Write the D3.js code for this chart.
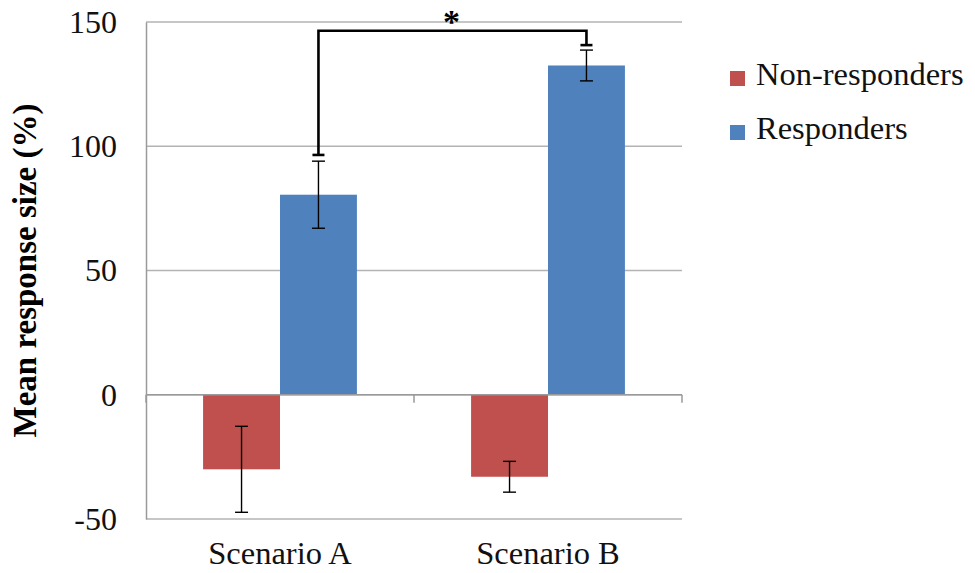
<!DOCTYPE html>
<html>
<head>
<meta charset="utf-8">
<script src="https://cdn.jsdelivr.net/npm/d3@7"></script>
<style>
  body { margin: 0; background: #fff; }
</style>
</head>
<body>
<div id="chart"></div>
<script>
// data
var categories = ["Scenario A", "Scenario B"];
var seriesNames = ["Non-responders", "Responders"];
var nonResponders = [-30, -33];
var nonRespErr = [17.3, 6.2];
var responders = [80.5, 132.5];
var respErr = [13.5, 6.2];
var yTicks = [-50, 0, 50, 100, 150];
// significance bracket (in data units)
var bracketTop = 146.5;
var bracketEnds = [96.5, 140.7];

var colors = ["#C0504D", "#4F81BD"];
var serif = "'Liberation Serif', 'Times New Roman', Times, serif";

var svgWidth = 975;
var svgHeight = 573;

var margin = { top: 22, right: 293, bottom: 54, left: 146 };
var width = svgWidth - margin.left - margin.right;
var height = svgHeight - margin.top - margin.bottom;

var svg = d3.select("#chart")
  .append("svg")
  .attr("width", svgWidth)
  .attr("height", svgHeight)
  .style("font-family", serif);

var chartGroup = svg.append("g")
  .attr("transform", `translate(${margin.left}, ${margin.top})`);

// scales
var x0 = d3.scaleBand()
  .domain(categories)
  .range([0, width])
  .padding(0);

var gap = x0.bandwidth() * 0.213;
var x1 = d3.scaleBand()
  .domain(seriesNames)
  .range([gap, x0.bandwidth() - gap])
  .padding(0);

var y = d3.scaleLinear()
  .domain([-50, 150])
  .range([height, 0]);

// gridlines
chartGroup.append("g")
  .selectAll("line")
  .data(yTicks)
  .enter()
  .append("line")
  .attr("x1", 0)
  .attr("x2", width)
  .attr("y1", d => y(d))
  .attr("y2", d => y(d))
  .attr("stroke", "#b3b3b3")
  .attr("stroke-width", 1.3);

// y axis
var leftAxis = d3.axisLeft(y)
  .tickValues(yTicks)
  .tickFormat(d => String(d))
  .tickSize(0)
  .tickPadding(29);

var yAxis = chartGroup.append("g")
  .call(leftAxis)
  .attr("font-family", null)
  .attr("font-size", null);
yAxis.select(".domain").attr("stroke", "#9a9a9a").attr("stroke-width", 1.5);
yAxis.selectAll("text")
  .style("font-family", serif)
  .attr("font-size", "32px")
  .attr("fill", "#111");

// bars
var rows = categories.map(function(c, i) {
  return [
    { cat: c, name: seriesNames[0], value: nonResponders[i], err: nonRespErr[i], color: colors[0] },
    { cat: c, name: seriesNames[1], value: responders[i], err: respErr[i], color: colors[1] }
  ];
});
var flat = rows.flat();

chartGroup.selectAll(".bar")
  .data(flat)
  .enter()
  .append("rect")
  .attr("class", "bar")
  .attr("x", d => x0(d.cat) + x1(d.name))
  .attr("width", x1.bandwidth())
  .attr("y", d => y(Math.max(0, d.value)))
  .attr("height", d => Math.abs(y(d.value) - y(0)))
  .attr("fill", d => d.color);

// zero line + category ticks
chartGroup.append("line")
  .attr("x1", 0).attr("x2", width)
  .attr("y1", y(0)).attr("y2", y(0))
  .attr("stroke", "#9a9a9a")
  .attr("stroke-width", 1.5);

var boundaries = categories.map(c => x0(c)).concat([width]);
chartGroup.selectAll(".xtick")
  .data(boundaries)
  .enter()
  .append("line")
  .attr("class", "xtick")
  .attr("x1", d => d).attr("x2", d => d)
  .attr("y1", y(0)).attr("y2", y(0) + 8)
  .attr("stroke", "#9a9a9a")
  .attr("stroke-width", 1.5);

// x labels
chartGroup.selectAll(".xlabel")
  .data(categories)
  .enter()
  .append("text")
  .attr("class", "xlabel")
  .attr("x", d => x0(d) + x0.bandwidth() / 2)
  .attr("y", 542)
  .attr("text-anchor", "middle")
  .style("font-family", serif)
  .attr("font-size", "32.5px")
  .attr("fill", "#111")
  .text(d => d);

// error bars
var capW = 13;
var errG = chartGroup.append("g")
  .attr("stroke", "#000")
  .attr("stroke-width", 1.4);

flat.forEach(function(d) {
  var cx = x0(d.cat) + x1(d.name) + x1.bandwidth() / 2;
  var hi = y(d.value + d.err), lo = y(d.value - d.err);
  errG.append("line").attr("x1", cx).attr("x2", cx).attr("y1", hi).attr("y2", lo);
  errG.append("line").attr("x1", cx - capW / 2).attr("x2", cx + capW / 2).attr("y1", hi).attr("y2", hi);
  errG.append("line").attr("x1", cx - capW / 2).attr("x2", cx + capW / 2).attr("y1", lo).attr("y2", lo);
});

// significance bracket between the responders bars
var bx = categories.map(c => x0(c) + x1(seriesNames[1]) + x1.bandwidth() / 2);
chartGroup.append("path")
  .attr("d", `M${bx[0]},${y(bracketEnds[0])} V${y(bracketTop)} H${bx[1]} V${y(bracketEnds[1])}`)
  .attr("fill", "none")
  .attr("stroke", "#000")
  .attr("stroke-width", 2.6);
bx.forEach(function(px, i) {
  chartGroup.append("line")
    .attr("x1", px - 6).attr("x2", px + 6)
    .attr("y1", y(bracketEnds[i])).attr("y2", y(bracketEnds[i]))
    .attr("stroke", "#000")
    .attr("stroke-width", 2.6);
});

chartGroup.append("text")
  .attr("x", (bx[0] + bx[1]) / 2 - 1)
  .attr("y", y(bracketTop) + 2)
  .attr("text-anchor", "middle")
  .style("font-family", serif)
  .attr("font-size", "34px")
  .attr("font-weight", "bold")
  .attr("fill", "#000")
  .text("*");

// y axis title
svg.append("text")
  .attr("transform", `translate(36, ${margin.top + height / 2}) rotate(-90)`)
  .attr("text-anchor", "middle")
  .style("font-family", serif)
  .attr("font-size", "33px")
  .attr("font-weight", "bold")
  .attr("fill", "#000")
  .text("Mean response size (%)");

// legend
var legend = svg.append("g")
  .attr("transform", "translate(730, 71)");

var legendItems = legend.selectAll(".item")
  .data(seriesNames)
  .enter()
  .append("g")
  .attr("class", "item")
  .attr("transform", (d, i) => `translate(0, ${i * 54})`);

legendItems.append("rect")
  .attr("width", 15)
  .attr("height", 15)
  .attr("fill", (d, i) => colors[i]);

legendItems.append("text")
  .attr("x", 26)
  .attr("y", 14)
  .style("font-family", serif)
  .attr("font-size", "32.5px")
  .attr("fill", "#111")
  .text(d => d);
</script>
</body>
</html>
